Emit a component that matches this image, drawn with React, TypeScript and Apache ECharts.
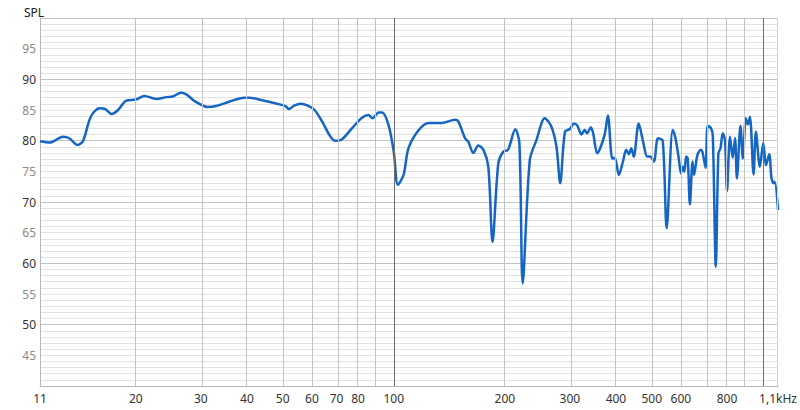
import React, { useEffect, useRef } from "react";
import * as echarts from "echarts";

const freqs = [
  11, 11.7, 12.7, 13.2, 13.9, 14.4, 15.1, 15.95, 16.5, 17.2, 17.9, 18.8, 20, 21.1, 22.7, 24.2, 25.2, 26.5, 27.4, 28.8,
  31.3, 33, 35.8, 39.3, 40.6, 44, 50, 51, 52, 53.7, 56, 58.5, 61, 64, 67, 69.2, 71.8, 77, 82, 85.5, 87.5, 91, 93, 96.8,
  100, 102.6, 106.3, 109.6, 116.7, 124.2, 134.9, 146.6, 149.7, 156, 159.3, 164.3, 169.5, 175, 180.4, 185.2, 192, 198,
  204, 213.5, 219, 223.6, 233.7, 243.6, 256.6, 267.3, 276, 282.5, 291, 300, 308, 314.4, 322.6, 329, 334, 342, 347, 356,
  372.5, 380.4, 391, 397, 407.5, 417.9, 426.5, 433.6, 440, 447, 461, 474, 486, 495, 507, 520, 535.6, 549, 570, 579, 592,
  600, 607, 613, 620, 626, 634.7, 645, 651, 665, 679, 686, 700, 709, 723, 732, 746, 758, 768, 779, 790, 800, 815, 829,
  841, 851, 870, 883, 900, 912, 923, 944, 958, 982, 1003, 1020, 1041, 1056, 1070, 1077, 1100,
];
const spl = [
  79.9, 79.7, 80.65, 80.4, 79.3, 80.0, 83.9, 85.3, 85.2, 84.35, 85.0, 86.5, 86.7, 87.3, 86.8, 87.1, 87.2, 87.8, 87.55, 86.5,
  85.5, 85.65, 86.35, 87.0, 87.0, 86.6, 85.8, 85.6, 85.15, 85.7, 86.0, 85.7, 85.0, 83.1, 80.9, 80.0, 80.1, 82.0, 83.75, 84.2, 83.65, 84.6, 84.6, 82.55,
  78.2, 72.8, 74.4, 78.75, 81.7, 82.9, 82.9, 83.4, 83.1, 80.4, 79.8, 78.0, 79.2, 78.5, 75.75, 63.5, 76.3, 78.2,
  78.5, 81.85, 79.6, 56.75, 76.85, 80.1, 83.65, 82.3, 79.0, 73.05, 81.45, 81.9, 82.8, 82.45, 81.0, 81.75, 81.2, 82.2, 81.2, 77.95,
  80.9, 84.1, 77.1, 77.2, 74.4, 76.6, 78.5, 77.8, 78.75, 77.4, 82.8, 79.8, 77.4, 77.4, 76.6, 80.4, 80.0, 65.7, 81.75, 80.65, 77.1,
  74.7, 75.75, 74.95, 77.4, 77.1, 69.6, 76.6, 74.4, 77.65, 78.5, 78.2, 75.6, 82.45, 82.1, 80.9, 59.45, 77.95, 78.75, 81.2, 80.1, 71.8, 80.65, 77.2,
  80.4, 73.85, 82.45, 77.1, 83.65, 82.65, 83.9, 74.5, 81.45, 75.75, 79.6, 76.0, 77.8, 73.85, 73.05, 73.3, 68.7,
];

const xTickFreqs = [11, 20, 30, 40, 50, 60, 70, 80, 100, 200, 300, 400, 500, 600, 800, 1100];
const xTickLabels = ["11", "20", "30", "40", "50", "60", "70", "80", "100", "200", "300", "400", "500", "600", "800", "1,1kHz"];
const gridFreqs = [20, 30, 40, 50, 60, 70, 80, 90, 100, 200, 300, 400, 500, 600, 700, 800, 900, 1000, 1100];
const darkGridFreqs = [100, 1000];
const yTicks = [45, 50, 55, 60, 65, 70, 75, 80, 85, 90, 95];
const fMin = 11;
const fMax = 1100;
const yMin = 40;
const yMax = 100;

export default function App() {
  const ref = useRef<HTMLDivElement>(null);
  useEffect(() => {
    if (!ref.current) return;
    const chart = echarts.init(ref.current, null, { renderer: "svg" });
    const lg = (f: number) => Math.log10(f);
    const labelMap: Record<string, string> = {};
    xTickFreqs.forEach((f, i) => {
      labelMap[lg(f).toFixed(6)] = xTickLabels[i];
    });
    const font = "'Noto Sans', 'Open Sans', sans-serif";
    chart.setOption({
      animation: false,
      title: {
        text: "SPL",
        left: 19,
        top: 1,
        textStyle: { fontSize: 12, fontWeight: "normal", color: "#222", fontFamily: font },
      },
      grid: { left: 40, right: 20, top: 18, bottom: 24 },
      xAxis: {
        type: "value",
        min: lg(fMin),
        max: lg(fMax),
        axisLine: { show: true, lineStyle: { color: "#b8b8b8", width: 1 } },
        axisTick: { show: false },
        splitLine: { show: false },
        axisLabel: {
          customValues: xTickFreqs.map(lg),
          formatter: (v: number) => labelMap[v.toFixed(6)] ?? "",
          color: "#333",
          fontSize: 12,
          fontFamily: font,
          margin: 6,
        },
      },
      yAxis: {
        type: "value",
        min: yMin,
        max: yMax,
        interval: 1,
        axisLine: { show: true, lineStyle: { color: "#b8b8b8", width: 1 } },
        axisTick: { show: false },
        splitLine: {
          show: true,
          lineStyle: {
            color: ["#c4c4c4", "#e2e2e2", "#e2e2e2", "#e2e2e2", "#e2e2e2", "#e2e2e2", "#e2e2e2", "#e2e2e2", "#e2e2e2", "#e2e2e2"],
            width: 1,
          },
        },
        axisLabel: {
          customValues: yTicks,
          formatter: (v: number) => String(v),
          color: (v: any) => (Number(v) % 10 === 0 ? "#333" : "#8a8a8a"),
          fontSize: 12,
          fontFamily: font,
          margin: 4,
        },
      },
      series: [
        {
          type: "line",
          data: [],
          z: 1,
          silent: true,
          markLine: {
            silent: true,
            symbol: ["none", "none"],
            label: { show: false },
            animation: false,
            data: gridFreqs.map((f) => ({
              xAxis: lg(f),
              lineStyle: {
                color: darkGridFreqs.includes(f) ? "#6e6e6e" : f === fMax ? "#d0d0d0" : "#c4c4c4",
                width: 1,
                type: "solid",
              },
            })),
          },
        },
        {
          type: "line",
          z: 3,
          data: freqs.map((f, i) => [lg(f), spl[i]]),
          showSymbol: false,
          smooth: 0.3,
          lineStyle: { color: "#1566c4", width: 2.5 },
          emphasis: { disabled: true },
          silent: true,
        },
      ],
    });
    return () => chart.dispose();
  }, []);
  return <div ref={ref} style={{ width: 800, height: 410, position: "absolute", left: 0, top: 0 }} />;
}
